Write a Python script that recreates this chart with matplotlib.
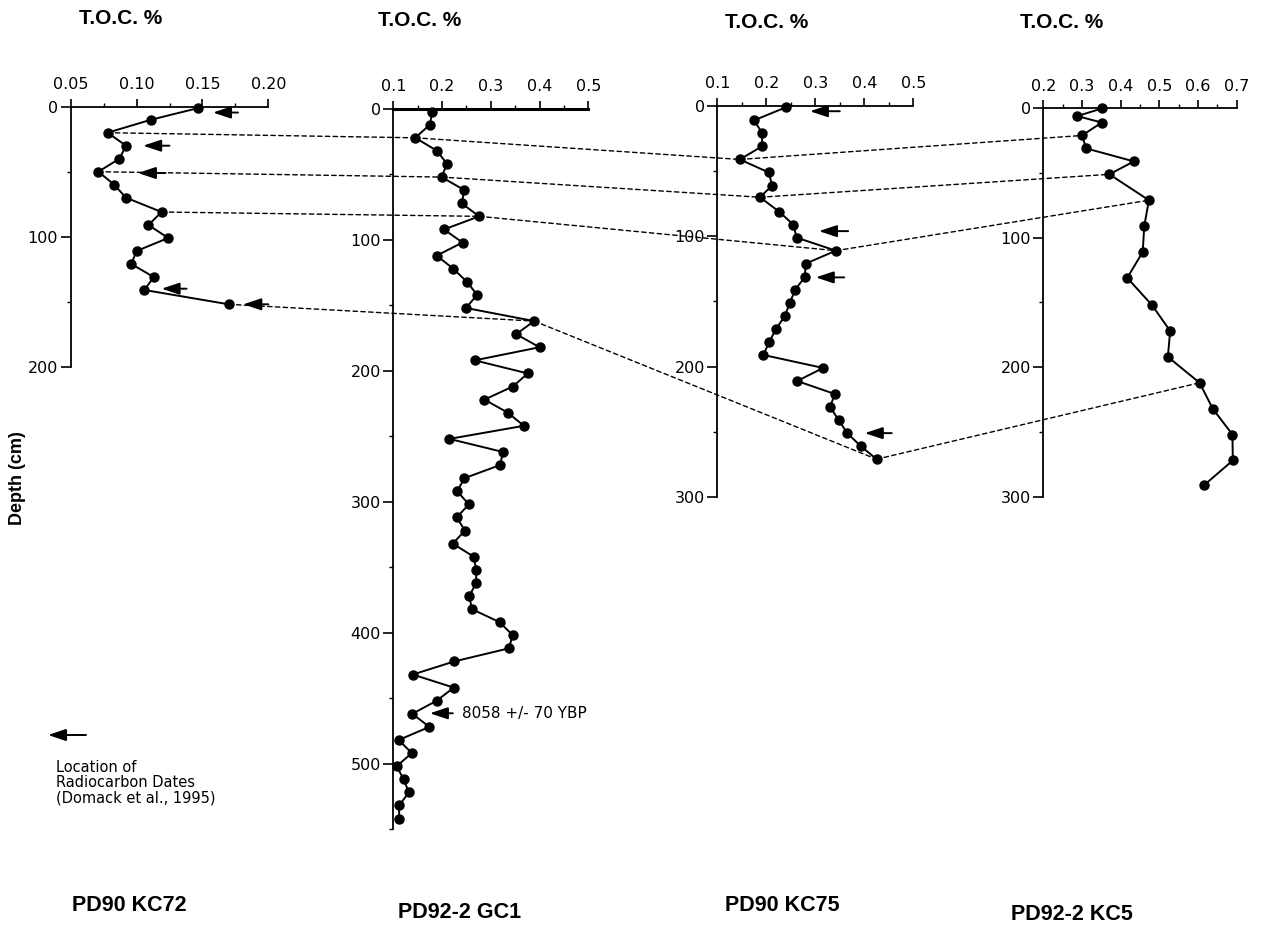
import matplotlib
matplotlib.use("Agg")
import matplotlib.pyplot as plt
from matplotlib.patches import ConnectionPatch, FancyArrowPatch
from matplotlib.ticker import MultipleLocator

plt.rcParams['font.family'] = ['DejaVu Sans']
BOLD = ['Liberation Sans', 'DejaVu Sans']

# ---------------- data ----------------
kc72_depth = [1, 10, 20, 30, 40, 50, 60, 70, 81, 91, 101, 111, 121, 131, 141, 152]
kc72_toc = [0.147, 0.111, 0.078, 0.092, 0.087, 0.071, 0.083, 0.092, 0.119, 0.109,
            0.124, 0.100, 0.096, 0.113, 0.106, 0.170]

gc1_depth = [2, 12, 22, 32, 42, 52, 62, 72, 82, 92, 102, 112, 122, 132, 142, 152,
             162, 172, 182, 192, 202, 212, 222, 232, 242, 252, 262, 272, 282, 292,
             302, 312, 322, 332, 342, 352, 362, 372, 382, 392, 402, 412, 422, 432,
             442, 452, 462, 472, 482, 492, 502, 512, 522, 532, 542]
gc1_toc = [0.180, 0.175, 0.145, 0.190, 0.210, 0.199, 0.246, 0.240, 0.276, 0.204,
           0.242, 0.189, 0.223, 0.251, 0.272, 0.249, 0.389, 0.352, 0.400, 0.267,
           0.376, 0.345, 0.287, 0.335, 0.368, 0.215, 0.325, 0.319, 0.246, 0.231,
           0.255, 0.230, 0.247, 0.222, 0.265, 0.270, 0.270, 0.256, 0.261, 0.318,
           0.345, 0.337, 0.225, 0.140, 0.224, 0.189, 0.139, 0.174, 0.111, 0.138,
           0.107, 0.121, 0.132, 0.112, 0.112]

kc75_depth = [1, 11, 21, 31, 41, 51, 61, 70, 81, 91, 101, 111, 121, 131, 141, 151,
              161, 171, 181, 191, 201, 211, 221, 231, 241, 251, 261, 271]
kc75_toc = [0.240, 0.175, 0.192, 0.191, 0.146, 0.205, 0.212, 0.187, 0.226, 0.255,
            0.262, 0.342, 0.280, 0.279, 0.259, 0.248, 0.238, 0.220, 0.206, 0.194,
            0.316, 0.263, 0.340, 0.330, 0.348, 0.365, 0.393, 0.425]

kc5_depth = [0, 6, 11, 21, 31, 41, 51, 71, 91, 111, 131, 152, 172, 192, 212, 232,
             252, 272, 291]
kc5_toc = [0.353, 0.288, 0.351, 0.300, 0.311, 0.434, 0.371, 0.473, 0.461, 0.457,
           0.417, 0.481, 0.528, 0.522, 0.604, 0.638, 0.689, 0.690, 0.616]

core_names = ["PD90 KC72", "PD92-2 GC1", "PD90 KC75", "PD92-2 KC5"]
x_limits = [(0.05, 0.20), (0.1, 0.5), (0.1, 0.5), (0.2, 0.7)]
x_major = [0.05, 0.1, 0.1, 0.1]
depth_max = [200, 550, 300, 300]

# correlation tie points: index of sample in each core (left to right)
ties = [(2, 2, 4, 3), (5, 5, 7, 6), (8, 8, 11, 7), (15, 16, 27, 14)]

# radiocarbon date arrows: (depth, toc_head, toc_tail)
arrows_kc72 = [(4.5, 0.158, 0.177), (30, 0.105, 0.125), (51, 0.101, 0.122),
               (140, 0.119, 0.138), (152, 0.181, 0.200)]
arrows_kc75 = [(4, 0.289, 0.350), (96, 0.3075, 0.367), (131.5, 0.301, 0.359),
               (251, 0.401, 0.456)]
gc1_date = (461.6, 0.175, 0.222, "8058 +/- 70 YBP")

# ---------------- layout ----------------
W, H = 1265, 930
fig = plt.figure(figsize=(W / 100, H / 100), dpi=100)
fig.patch.set_facecolor('white')

# (left, right, top, bottom) in pixels
boxes = [(70.7, 268.3, 106.7, 366.7), (393.3, 588.3, 109, 829),
         (717.3, 913.3, 106, 497), (1043.3, 1236.7, 108.3, 496.7)]

depths = [kc72_depth, gc1_depth, kc75_depth, kc5_depth]
tocs = [kc72_toc, gc1_toc, kc75_toc, kc5_toc]

axes = []
for i, (l, r, t, b) in enumerate(boxes):
    ax = fig.add_axes([l / W, 1 - b / H, (r - l) / W, (b - t) / H])
    ax.set_facecolor('none')
    ax.set_xlim(*x_limits[i])
    ax.set_ylim(depth_max[i], 0)
    ax.spines['right'].set_visible(False)
    ax.spines['bottom'].set_visible(False)
    ax.spines['left'].set_linewidth(1.3)
    ax.spines['top'].set_linewidth(2.2 if i == 1 else 1.3)
    ax.xaxis.tick_top()
    ax.xaxis.set_major_locator(MultipleLocator(x_major[i]))
    ax.xaxis.set_minor_locator(MultipleLocator(x_major[i] / 2))
    ax.yaxis.set_major_locator(MultipleLocator(100))
    ax.yaxis.set_minor_locator(MultipleLocator(50))
    ax.tick_params(axis='x', which='major', direction='out', length=5.5, width=1.2,
                   labelsize=11.5, pad=5)
    ax.tick_params(axis='x', which='minor', direction='out', length=3, width=1.0)
    ax.tick_params(axis='y', which='major', direction='out', length=7, width=1.2,
                   labelsize=11.5, pad=2)
    ax.tick_params(axis='y', which='minor', direction='out', length=3, width=1.0)
    if i == 0:
        ax.set_xticks([0.05, 0.10, 0.15, 0.20])
        ax.set_xticklabels(["0.05", "0.10", "0.15", "0.20"])
    ax.plot(tocs[i], depths[i], '-o', color='black', lw=1.4, ms=6.5,
            clip_on=False, zorder=3)
    axes.append(ax)

# correlation dashed lines
for tie in ties:
    for k in range(3):
        a, b = k, k + 1
        con = ConnectionPatch(xyA=(tocs[a][tie[a]], depths[a][tie[a]]), coordsA='data',
                              axesA=axes[a],
                              xyB=(tocs[b][tie[b]], depths[b][tie[b]]), coordsB='data',
                              axesB=axes[b],
                              linestyle=(0, (3.2, 2.4)), linewidth=1.0, color='black',
                              shrinkA=0, shrinkB=0, zorder=2)
        fig.add_artist(con)


def draw_arrow(ax, depth, head, tail):
    ax.annotate('', xy=(head, depth), xytext=(tail, depth),
                arrowprops=dict(arrowstyle='-|>,head_length=0.9,head_width=0.3',
                                color='black', lw=1.4, shrinkA=0, shrinkB=0,
                                mutation_scale=12),
                annotation_clip=False, zorder=4)


for d, h, t in arrows_kc72:
    draw_arrow(axes[0], d, h, t)
for d, h, t in arrows_kc75:
    draw_arrow(axes[2], d, h, t)
draw_arrow(axes[1], gc1_date[0], gc1_date[1], gc1_date[2])
axes[1].text(0.240, gc1_date[0], gc1_date[3], fontsize=11, va='center', ha='left')

# titles and labels
title_pos = [(121, 18), (420, 20), (767, 22), (1062, 22)]
for (x, y) in title_pos:
    fig.text(x / W, 1 - y / H, "T.O.C. %", fontsize=15, fontweight='bold',
             family=BOLD, ha='center', va='center')

name_pos = [(129, 905), (460, 912), (782, 905), (1072, 914)]
for (x, y), name in zip(name_pos, core_names):
    fig.text(x / W, 1 - y / H, name, fontsize=15.5, fontweight='bold',
             family=BOLD, ha='center', va='center')

fig.text(18 / W, 1 - 478 / H, "Depth (cm)", fontsize=13, fontweight='bold',
         family=BOLD, rotation=90, ha='center', va='center')

# legend
leg_arrow = FancyArrowPatch((86 / W, 1 - 735 / H), (48 / W, 1 - 735 / H),
                            transform=fig.transFigure,
                            arrowstyle='-|>,head_length=0.9,head_width=0.3',
                            mutation_scale=12, color='black', lw=1.4,
                            shrinkA=0, shrinkB=0)
fig.add_artist(leg_arrow)
fig.text(56 / W, 1 - 760 / H, "Location of\nRadiocarbon Dates\n(Domack et al., 1995)",
         fontsize=10.5, ha='left', va='top', linespacing=1.0)

fig.savefig("out.png", dpi=100, facecolor='white')
